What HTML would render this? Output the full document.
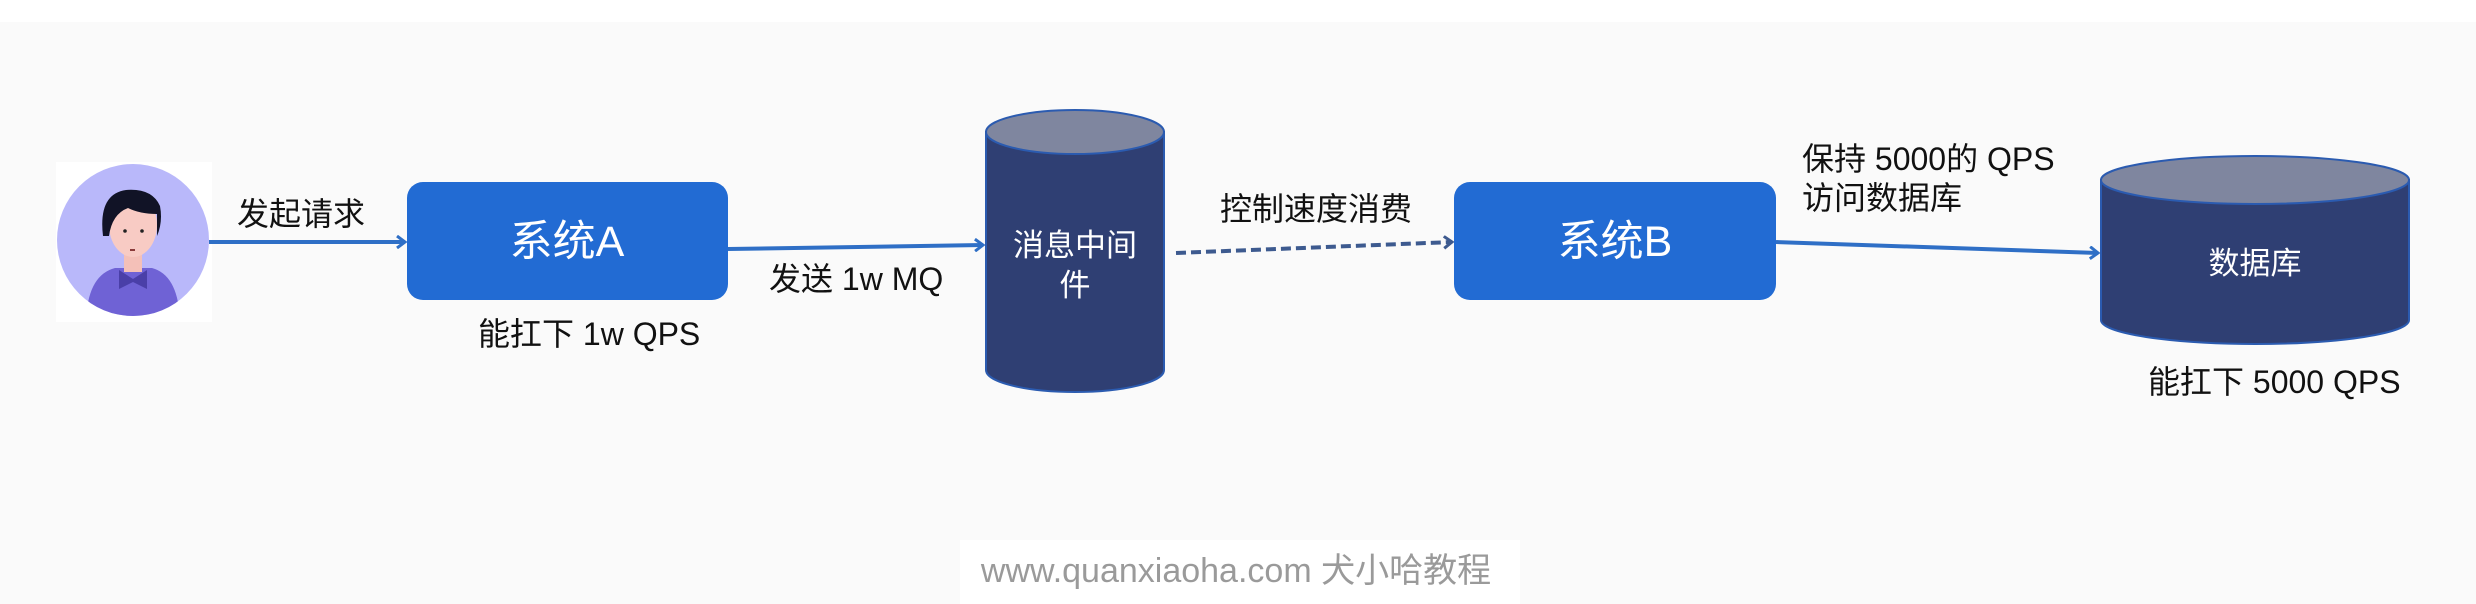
<!DOCTYPE html>
<html><head><meta charset="utf-8"><style>
html,body{margin:0;padding:0;background:#fafafa;}
svg{display:block;}
text{font-family:"Liberation Sans","Noto Sans CJK SC",sans-serif;}
</style></head><body>
<svg width="2476" height="604" viewBox="0 0 2476 604" xmlns="http://www.w3.org/2000/svg">
<rect width="2476" height="604" fill="#fafafa"/>
<rect x="0" y="0" width="2476" height="22" fill="#ffffff"/>
<defs>
<marker id="ah" markerWidth="12" markerHeight="14" refX="10" refY="7" orient="auto" markerUnits="userSpaceOnUse">
<path d="M2,1 L10,7 L2,13" fill="none" stroke="#2f6fc6" stroke-width="3"/>
</marker>
<marker id="ah2" markerWidth="12" markerHeight="14" refX="10" refY="7" orient="auto" markerUnits="userSpaceOnUse">
<path d="M2,1 L10,7 L2,13" fill="none" stroke="#3d5a8f" stroke-width="3"/>
</marker>
</defs>
<!-- avatar -->
<rect x="56" y="162" width="156" height="160" fill="#ffffff"/>
<circle cx="133" cy="240" r="76" fill="#b9b8fa"/>
<clipPath id="cc"><circle cx="133" cy="240" r="76"/></clipPath>
<g clip-path="url(#cc)">
<path d="M86,320 Q88,275 115,268 L152,268 Q178,275 180,320 Z" fill="#6f62d5"/>
<rect x="124" y="238" width="18" height="34" fill="#f4c0b8"/>
<ellipse cx="133" cy="225" rx="24" ry="32" fill="#f8cbc4"/>
<path d="M103,236 Q98,194 126,190 Q152,188 160,206 Q163,222 157,236 L157,214 Q140,214 128,208 Q112,214 109,236 Z" fill="#111326"/>
<path d="M119,270 L133,279 L147,270 L147,289 L133,282 L119,289 Z" fill="#4a3fa8"/>
<circle cx="125" cy="231" r="1.8" fill="#222"/><circle cx="142" cy="231" r="1.8" fill="#222"/>
<rect x="130" y="249" width="5" height="2" fill="#8a3a3a"/>
</g>
<!-- arrows -->
<line x1="209" y1="242" x2="405" y2="242" stroke="#2f6fc6" stroke-width="4" marker-end="url(#ah)"/>
<line x1="728" y1="249" x2="983" y2="245" stroke="#2f6fc6" stroke-width="4" marker-end="url(#ah)"/>
<line x1="1176" y1="253" x2="1452" y2="242" stroke="#3d5a8f" stroke-width="4" stroke-dasharray="10,5" marker-end="url(#ah2)"/>
<line x1="1776" y1="242" x2="2098" y2="253" stroke="#2f6fc6" stroke-width="4" marker-end="url(#ah)"/>
<!-- boxes -->
<rect x="407" y="182" width="321" height="118" rx="16" fill="#226bd3"/>
<text x="567" y="256" font-size="43" fill="#fff" text-anchor="middle">系统A</text>
<rect x="1454" y="182" width="322" height="118" rx="16" fill="#226bd3"/>
<text x="1615" y="256" font-size="43" fill="#fff" text-anchor="middle">系统B</text>
<!-- MQ cylinder -->
<path d="M986,132 L986,370 A89,22 0 0 0 1164,370 L1164,132 Z" fill="#2f3f73" stroke="#2b5bb0" stroke-width="2"/>
<ellipse cx="1075" cy="132" rx="89" ry="22" fill="#7f869f" stroke="#2b5bb0" stroke-width="2"/>
<text x="1075" y="256" font-size="31" fill="#fff" text-anchor="middle">消息中间</text>
<text x="1075" y="296" font-size="31" fill="#fff" text-anchor="middle">件</text>
<!-- DB cylinder -->
<path d="M2101,180 L2101,320 A154,24 0 0 0 2409,320 L2409,180 Z" fill="#2f3f73" stroke="#2b5bb0" stroke-width="2"/>
<ellipse cx="2255" cy="180" rx="154" ry="24" fill="#7f869f" stroke="#2b5bb0" stroke-width="2"/>
<text x="2255" y="274" font-size="31" fill="#fff" text-anchor="middle">数据库</text>
<!-- labels -->
<g font-size="32" fill="#111">
<text x="237" y="225">发起请求</text>
<text x="478" y="345">能扛下 1w QPS</text>
<text x="769" y="290">发送 1w MQ</text>
<text x="1220" y="220">控制速度消费</text>
<text x="1802" y="170">保持 5000的 QPS</text>
<text x="1802" y="209">访问数据库</text>
<text x="2148" y="393">能扛下 5000 QPS</text>
</g>
<rect x="960" y="540" width="560" height="64" fill="#ffffff"/>
<text x="1236" y="582" font-size="34" fill="#9a9a9a" text-anchor="middle">www.quanxiaoha.com 犬小哈教程</text>
</svg>
</body></html>
